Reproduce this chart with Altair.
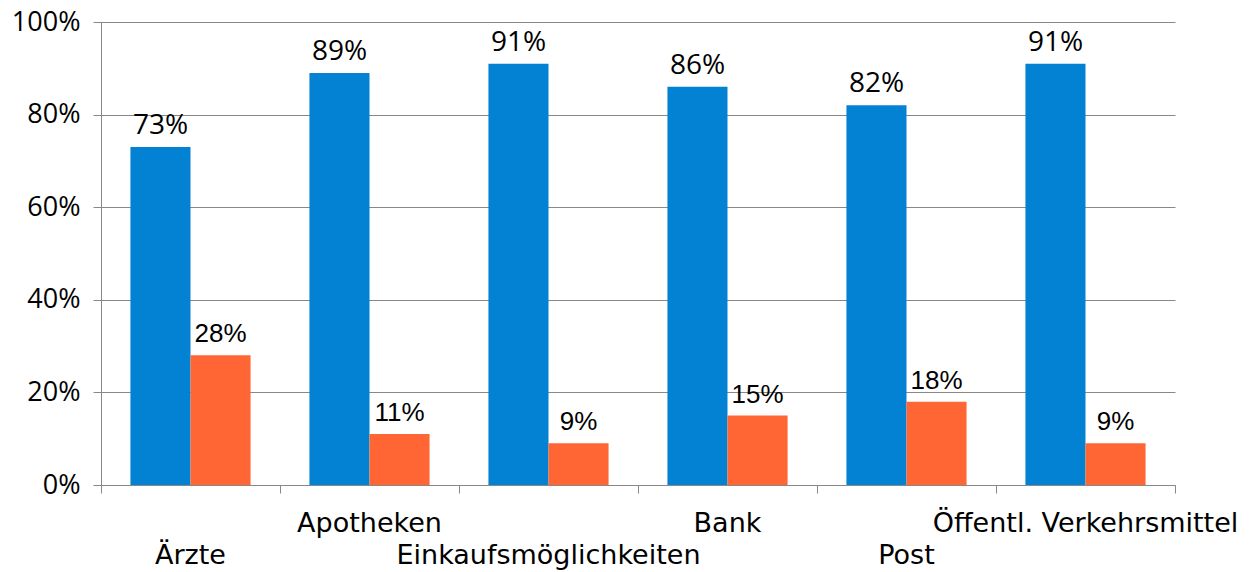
import altair as alt
import pandas as pd

categories = ["Ärzte", "Apotheken", "Einkaufsmöglichkeiten", "Bank", "Post", "Öffentl. Verkehrsmittel"]
series_names = ["A", "B"]
values_a = [73, 89, 91, 86, 82, 91]
values_b = [28, 11, 9, 15, 18, 9]
label_rows = [1, 0, 1, 0, 1, 0]
colors = ["#0382D3", "#FF6633"]

rows = []
for c, a, b in zip(categories, values_a, values_b):
    rows.append({"cat": c, "series": "A", "value": a})
    rows.append({"cat": c, "series": "B", "value": b})
df = pd.DataFrame(rows)
df_labels = pd.DataFrame({"cat": categories, "row": label_rows})

W, H = 1074, 463

x_enc = alt.X(
    "cat:N", sort=categories, title=None,
    scale=alt.Scale(paddingInner=0, paddingOuter=0),
    axis=alt.Axis(labels=False, tickBand="extent", tickSize=8, tickColor="#888888",
                  domainColor="#888888", grid=False, ticks=True),
)
xoff = alt.XOffset("series:N", sort=series_names,
                   scale=alt.Scale(paddingInner=0, paddingOuter=0.49))
y_enc = alt.Y(
    "value:Q", title=None,
    scale=alt.Scale(domain=[0, 100], nice=False),
    axis=alt.Axis(values=[0, 20, 40, 60, 80, 100], labelExpr="datum.value + '%'",
                  tickSize=8, tickColor="#888888", domainColor="#888888",
                  gridColor="#888888", gridWidth=1, labelFontSize=27,
                  labelFont="Open Sans", labelColor="#000000", labelPadding=13),
)

bars = alt.Chart(df).mark_bar().encode(
    x=x_enc, xOffset=xoff, y=y_enc,
    color=alt.Color("series:N", sort=series_names,
                    scale=alt.Scale(domain=series_names, range=colors), legend=None),
)

vals_a = alt.Chart(df).transform_filter("datum.series == 'A'").transform_calculate(
    lbl="datum.value + '%'"
).mark_text(baseline="alphabetic", dy=-13, font="Open Sans", fontSize=28, color="#000000").encode(
    x=alt.X("cat:N", sort=categories), xOffset=xoff, y="value:Q", text="lbl:N",
)

vals_b = alt.Chart(df).transform_filter("datum.series == 'B'").transform_calculate(
    lbl="datum.value + '%'"
).mark_text(baseline="alphabetic", dy=-13, font="Liberation Sans", fontSize=26, color="#000000").encode(
    x=alt.X("cat:N", sort=categories), xOffset=xoff, y="value:Q", text="lbl:N",
)

lab_top = alt.Chart(df_labels).transform_filter("datum.row == 0").mark_text(
    baseline="alphabetic", font="DejaVu Sans", fontSize=27, color="#000000"
).encode(x=alt.X("cat:N", sort=categories), y=alt.value(510), text="cat:N")

lab_bot = alt.Chart(df_labels).transform_filter("datum.row == 1").mark_text(
    baseline="alphabetic", font="DejaVu Sans", fontSize=27, color="#000000"
).encode(x=alt.X("cat:N", sort=categories), y=alt.value(542), text="cat:N")

chart = alt.layer(bars, vals_a, vals_b, lab_top, lab_bot).properties(
    width=W, height=H,
    autosize=alt.AutoSizeParams(type="none"),
    padding={"left": 93, "top": 14, "right": 75, "bottom": 87},
).configure_view(stroke=None).configure_axis(domainWidth=1, tickWidth=1)

chart.save("out.html", embed_options={"renderer": "svg", "actions": False})
